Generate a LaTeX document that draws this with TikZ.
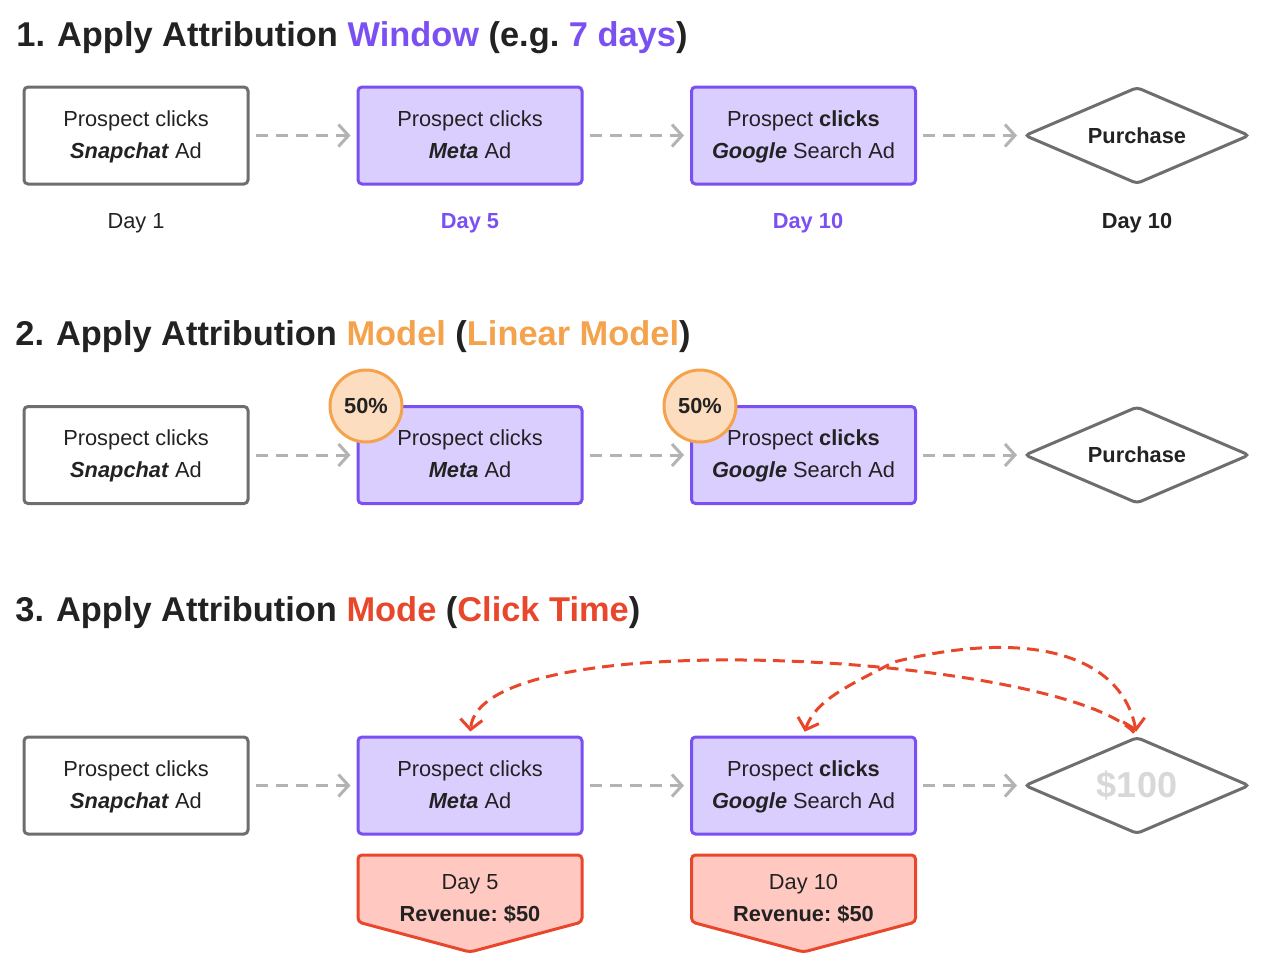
\documentclass[tikz,border=0pt]{standalone}
\usepackage{fontspec}
\setmainfont{Liberation Sans}
\usetikzlibrary{arrows.meta,shapes.geometric}
\definecolor{ink}{HTML}{222222}
\definecolor{boxgray}{HTML}{6E6E6E}
\definecolor{arrowgray}{HTML}{B3B3B3}
\definecolor{violet}{HTML}{7B50F2}
\definecolor{lavender}{HTML}{DACEFF}
\definecolor{peach}{HTML}{F5A24C}
\definecolor{peachlight}{HTML}{FDDDBF}
\definecolor{tomato}{HTML}{E8472B}
\definecolor{salmon}{HTML}{FFC8C1}
\definecolor{faded}{HTML}{D8D8D8}
\frenchspacing
\begin{document}
\begin{tikzpicture}[x=0.5pt,y=-0.5pt,font=\fontsize{10.9}{16}\selectfont,text=ink,>={Straight Barb[length=5pt,width=11pt]},
  title/.style={anchor=base west,inner sep=0pt,font=\fontsize{17.2}{20}\selectfont\bfseries},
  box/.style={draw=boxgray,line width=1.5pt,rounded corners=2pt,fill=white,align=center,minimum width=112pt,minimum height=48.5pt,inner sep=0pt,text depth=1pt},
  adbox/.style={box,draw=violet,fill=lavender},
  goal/.style={diamond,draw=boxgray,line width=1.5pt,rounded corners=2pt,fill=white,aspect=2.3,minimum width=112.5pt,minimum height=48.5pt,inner sep=0pt,font=\fontsize{10.9}{16}\selectfont\bfseries},
  flow/.style={draw=arrowgray,line width=1.5pt,dash pattern=on 6pt off 4pt,->,shorten <=3pt,shorten >=3pt},
  credit/.style={circle,draw=peach,fill=peachlight,line width=1.5pt,minimum size=36pt,inner sep=0pt,font=\fontsize{10.9}{16}\selectfont\bfseries},
  claim/.style={draw=tomato,line width=1.5pt,dash pattern=on 6pt off 3.5pt,shorten <=2pt,shorten >=2pt},
  tag/.style={draw=tomato,fill=salmon,line width=1.5pt,rounded corners=2pt},
  revtext/.style={align=center,inner sep=0pt}]
\useasboundingbox (0,0) rectangle (1280,970);

% 1. window
\node[title] (title1) at (16,46) {1.\hspace{0.35em}Apply Attribution \textcolor{violet}{Window} (e.g.\ \textcolor{violet}{7 days})};
\node[box] (snap1) at (136,135.5) {Prospect clicks\\\textbf{\textit{Snapchat}} Ad};
\node[adbox] (meta1) at (470,135.5) {Prospect clicks\\\textbf{\textit{Meta}} Ad};
\node[adbox] (google1) at (803.5,135.5) {Prospect \textbf{clicks}\\\textbf{\textit{Google}} Search Ad};
\node[goal] (buy1) at (1137,135.5) {Purchase};
\draw[flow] (snap1)--(meta1);
\draw[flow] (meta1)--(google1);
\draw[flow] (google1)--(buy1);
\node (snapday) at (136,223) {Day 1};
\node[text=violet,font=\fontsize{10.9}{16}\selectfont\bfseries] (metaday) at (470,223) {Day 5};
\node[text=violet,font=\fontsize{10.9}{16}\selectfont\bfseries] (googleday) at (808,223) {Day 10};
\node[font=\fontsize{10.9}{16}\selectfont\bfseries] (buyday) at (1137,223) {Day 10};

% 2. model
\node[title] (title2) at (15,345) {2.\hspace{0.35em}Apply Attribution \textcolor{peach}{Model} (\textcolor{peach}{Linear Model})};
\node[box] (snap2) at (136,455) {Prospect clicks\\\textbf{\textit{Snapchat}} Ad};
\node[adbox] (meta2) at (470,455) {Prospect clicks\\\textbf{\textit{Meta}} Ad};
\node[adbox] (google2) at (803.5,455) {Prospect \textbf{clicks}\\\textbf{\textit{Google}} Search Ad};
\node[goal] (buy2) at (1137,455) {Purchase};
\draw[flow] (snap2)--(meta2);
\draw[flow] (meta2)--(google2);
\draw[flow] (google2)--(buy2);
\node[credit] (metashare) at (366,406) {50\%};
\node[credit] (googleshare) at (700,406) {50\%};

% 3. mode
\node[title] (title3) at (15,621) {3.\hspace{0.35em}Apply Attribution \textcolor{tomato}{Mode} (\textcolor{tomato}{Click Time})};
\node[box] (snap3) at (136,785.5) {Prospect clicks\\\textbf{\textit{Snapchat}} Ad};
\node[adbox] (meta3) at (470,785.5) {Prospect clicks\\\textbf{\textit{Meta}} Ad};
\node[adbox] (google3) at (803.5,785.5) {Prospect \textbf{clicks}\\\textbf{\textit{Google}} Search Ad};
\node[goal,font=\fontsize{18}{20}\selectfont\bfseries,text=faded] (buy3) at (1137,785.5) {\$100};
\draw[flow] (snap3)--(meta3);
\draw[flow] (meta3)--(google3);
\draw[flow] (google3)--(buy3);
\foreach \x in {470,803.5}
  \draw[tag] (\x-112,855) -- (\x+112,855) -- (\x+112,922) -- (\x,952) -- (\x-112,922) -- cycle;
\node[revtext] (metarev) at (470,899) {Day 5\\\textbf{Revenue: \$50}};
\node[revtext] (googlerev) at (803.5,899) {Day 10\\\textbf{Revenue: \$50}};
\coordinate (split) at (894,662);
\draw[claim,->] (buy3.north) .. controls (1060,655) and (480,620) .. (meta3.north);
\draw[claim,<->] (buy3.north) .. controls (1120,650) and (1020,630) .. (split) .. controls (850,685) and (815,700) .. (google3.north);
\end{tikzpicture}
\end{document}
